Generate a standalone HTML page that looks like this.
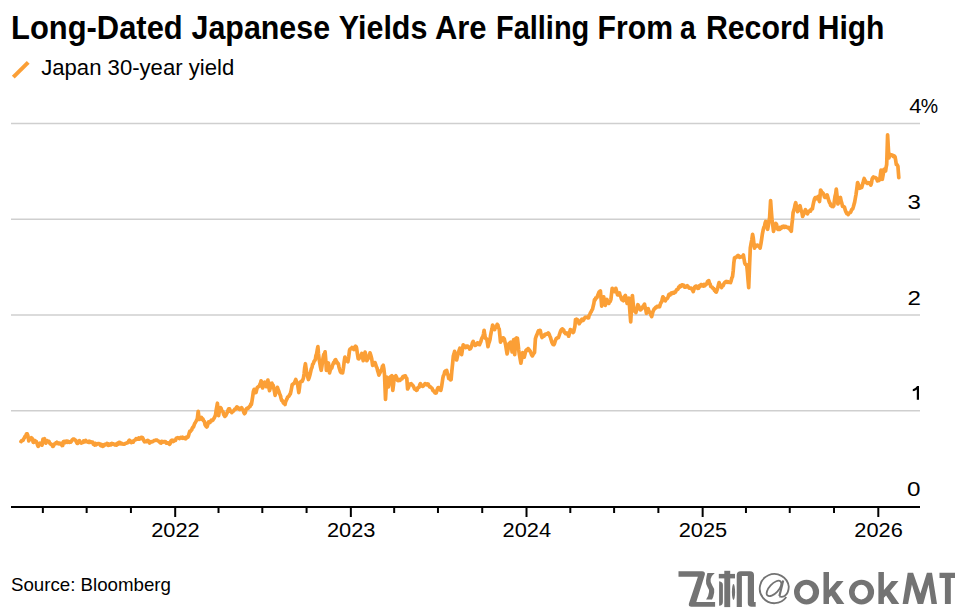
<!DOCTYPE html>
<html><head><meta charset="utf-8">
<style>
html,body{margin:0;padding:0;background:#fff;}
body{width:955px;height:608px;overflow:hidden;position:relative;}
svg{position:absolute;left:0;top:0;}
text{font-family:"Liberation Sans",sans-serif;fill:#000;}
.t{font-weight:bold;font-size:33px;}
.lg{font-size:22px;}
.ax{font-size:19.5px;}
.src{font-size:18.5px;}
</style></head><body>
<svg width="955" height="608" viewBox="0 0 955 608">
<text x="11.1" y="39" class="t" textLength="171.6" lengthAdjust="spacingAndGlyphs">Long-Dated</text>
<text x="191.5" y="39" class="t" textLength="138.6" lengthAdjust="spacingAndGlyphs">Japanese</text>
<text x="338.8" y="39" class="t" textLength="88.6" lengthAdjust="spacingAndGlyphs">Yields</text>
<text x="434.9" y="39" class="t" textLength="51.7" lengthAdjust="spacingAndGlyphs">Are</text>
<text x="496.0" y="39" class="t" textLength="93.3" lengthAdjust="spacingAndGlyphs">Falling</text>
<text x="597.6" y="39" class="t" textLength="75.4" lengthAdjust="spacingAndGlyphs">From</text>
<text x="680.0" y="39" class="t" textLength="15.7" lengthAdjust="spacingAndGlyphs">a</text>
<text x="705.9" y="39" class="t" textLength="104.3" lengthAdjust="spacingAndGlyphs">Record</text>
<text x="817.7" y="39" class="t" textLength="66.8" lengthAdjust="spacingAndGlyphs">High</text>
<line x1="13.3" y1="77.2" x2="28.2" y2="62.3" stroke="#FB9F36" stroke-width="4"/>
<text x="41.2" y="74.6" class="lg" textLength="193" lengthAdjust="spacingAndGlyphs">Japan 30-year yield</text>
<line x1="11" y1="410.8" x2="920" y2="410.8" stroke="#cfcfcf" stroke-width="1.5"/>
<line x1="11" y1="315.0" x2="920" y2="315.0" stroke="#cfcfcf" stroke-width="1.5"/>
<line x1="11" y1="219.2" x2="920" y2="219.2" stroke="#cfcfcf" stroke-width="1.5"/>
<line x1="11" y1="123.4" x2="920" y2="123.4" stroke="#cfcfcf" stroke-width="1.5"/>

<line x1="11" y1="507" x2="920" y2="507" stroke="#000" stroke-width="2"/>
<line x1="42.86" y1="506" x2="42.86" y2="513" stroke="#000" stroke-width="2"/>
<line x1="86.65" y1="506" x2="86.65" y2="513" stroke="#000" stroke-width="2"/>
<line x1="130.93" y1="506" x2="130.93" y2="513" stroke="#000" stroke-width="2"/>
<line x1="175.20" y1="506" x2="175.20" y2="517" stroke="#000" stroke-width="2"/>
<line x1="218.51" y1="506" x2="218.51" y2="513" stroke="#000" stroke-width="2"/>
<line x1="262.31" y1="506" x2="262.31" y2="513" stroke="#000" stroke-width="2"/>
<line x1="306.58" y1="506" x2="306.58" y2="513" stroke="#000" stroke-width="2"/>
<line x1="350.85" y1="506" x2="350.85" y2="517" stroke="#000" stroke-width="2"/>
<line x1="394.17" y1="506" x2="394.17" y2="513" stroke="#000" stroke-width="2"/>
<line x1="437.96" y1="506" x2="437.96" y2="513" stroke="#000" stroke-width="2"/>
<line x1="482.23" y1="506" x2="482.23" y2="513" stroke="#000" stroke-width="2"/>
<line x1="526.51" y1="506" x2="526.51" y2="517" stroke="#000" stroke-width="2"/>
<line x1="570.30" y1="506" x2="570.30" y2="513" stroke="#000" stroke-width="2"/>
<line x1="614.10" y1="506" x2="614.10" y2="513" stroke="#000" stroke-width="2"/>
<line x1="658.37" y1="506" x2="658.37" y2="513" stroke="#000" stroke-width="2"/>
<line x1="702.65" y1="506" x2="702.65" y2="517" stroke="#000" stroke-width="2"/>
<line x1="745.96" y1="506" x2="745.96" y2="513" stroke="#000" stroke-width="2"/>
<line x1="789.75" y1="506" x2="789.75" y2="513" stroke="#000" stroke-width="2"/>
<line x1="834.03" y1="506" x2="834.03" y2="513" stroke="#000" stroke-width="2"/>
<line x1="878.30" y1="506" x2="878.30" y2="517" stroke="#000" stroke-width="2"/>

<text x="175.5" y="537" text-anchor="middle" class="ax" textLength="48.5" lengthAdjust="spacingAndGlyphs">2022</text>
<text x="351.2" y="537" text-anchor="middle" class="ax" textLength="48.5" lengthAdjust="spacingAndGlyphs">2023</text>
<text x="526.8" y="537" text-anchor="middle" class="ax" textLength="48.5" lengthAdjust="spacingAndGlyphs">2024</text>
<text x="702.9" y="537" text-anchor="middle" class="ax" textLength="48.5" lengthAdjust="spacingAndGlyphs">2025</text>
<text x="878.6" y="537" text-anchor="middle" class="ax" textLength="48.5" lengthAdjust="spacingAndGlyphs">2026</text>

<text x="909.2" y="112.5" class="ax" textLength="12.25" lengthAdjust="spacingAndGlyphs">4</text>
<text x="907.4" y="209.2" class="ax" textLength="13.37" lengthAdjust="spacingAndGlyphs">3</text>
<text x="907.5" y="305.0" class="ax" textLength="13.43" lengthAdjust="spacingAndGlyphs">2</text>
<text x="907.05" y="495.7" class="ax" textLength="13.5" lengthAdjust="spacingAndGlyphs">0</text>
<text x="920.8" y="112.5" class="ax">%</text>
<path d="M919,385.9 V399.8 H916.8 V389.4 Q915,390.7 912.8,391.3 V389.3 Q915.6,388.3 917.1,385.9 Z" fill="#000"/>

<path d="M21.0,441.6 L21.7,440.6 L22.5,440.7 L23.2,440.1 L23.8,438.6 L24.5,437.8 L25.1,436.3 L25.9,435.3 L26.6,433.8 L27.2,433.9 L27.9,435.7 L28.8,441.0 L29.5,438.8 L30.1,438.5 L30.7,439.1 L31.4,437.8 L32.0,438.2 L32.6,439.7 L33.2,442.3 L33.9,442.3 L34.5,440.4 L35.1,440.7 L35.8,441.9 L36.4,441.6 L37.0,443.2 L37.6,445.1 L38.2,446.4 L38.8,444.6 L39.5,444.5 L40.1,443.2 L40.7,444.6 L41.4,444.5 L42.0,445.1 L43.0,439.1 L43.8,439.4 L44.5,438.8 L45.1,441.3 L45.8,443.2 L46.5,441.1 L47.3,440.7 L48.1,441.5 L48.9,441.3 L49.5,442.7 L50.2,443.8 L50.8,443.8 L51.4,444.5 L52.0,444.5 L52.7,446.4 L53.4,446.2 L54.0,444.5 L54.6,443.9 L55.2,443.9 L55.8,442.9 L56.5,443.4 L57.1,442.3 L57.7,443.0 L58.4,443.7 L59.0,443.2 L59.6,443.1 L60.3,444.0 L60.9,443.5 L61.5,444.0 L62.1,445.6 L62.7,445.4 L63.4,441.6 L64.0,442.7 L64.7,441.5 L65.3,442.6 L65.9,441.3 L66.5,441.0 L67.1,441.0 L67.7,442.3 L68.4,441.5 L69.0,442.0 L69.6,442.3 L70.3,441.6 L70.9,442.0 L71.6,440.9 L72.2,439.8 L72.8,439.3 L73.4,439.0 L74.0,439.1 L74.8,439.9 L75.7,440.4 L76.5,442.1 L77.2,443.5 L77.9,443.4 L78.7,442.0 L79.4,440.7 L80.1,442.0 L80.8,442.4 L81.5,443.1 L82.2,442.6 L82.9,442.5 L83.6,441.0 L84.3,442.0 L85.0,441.8 L85.7,440.4 L86.3,441.7 L87.0,441.6 L87.6,442.0 L88.4,442.3 L89.2,441.2 L89.9,442.4 L90.7,441.6 L91.3,442.2 L92.0,442.0 L92.6,442.0 L93.3,444.1 L93.9,443.8 L94.5,445.0 L95.2,443.3 L95.8,444.9 L96.4,444.5 L97.2,444.1 L98.0,443.5 L98.7,443.6 L99.5,443.8 L100.1,444.9 L100.8,445.6 L101.4,444.4 L102.1,446.1 L102.7,446.4 L103.3,444.9 L104.0,445.7 L104.6,444.4 L105.2,444.2 L105.8,444.7 L106.5,444.7 L107.1,443.5 L107.7,443.9 L108.3,445.3 L109.0,444.3 L109.6,445.1 L110.4,444.0 L111.2,444.8 L111.9,443.5 L112.7,444.2 L113.5,443.8 L114.2,444.4 L115.0,445.0 L115.7,444.2 L116.5,445.1 L117.3,443.5 L118.0,444.4 L118.8,442.6 L119.6,442.3 L120.2,443.6 L120.9,443.9 L121.5,443.2 L122.2,443.7 L122.8,444.2 L123.4,444.1 L124.0,444.1 L124.7,443.9 L125.3,443.5 L125.9,443.3 L126.6,443.1 L127.2,442.6 L127.9,442.7 L128.7,441.0 L129.4,440.2 L130.0,440.8 L130.7,442.2 L131.3,442.5 L131.9,441.5 L132.6,441.2 L133.2,442.1 L133.9,440.7 L134.5,440.2 L135.3,440.0 L136.1,438.6 L136.8,439.1 L137.6,439.0 L138.2,439.1 L138.8,437.9 L139.5,439.0 L140.1,438.7 L140.7,438.7 L141.3,437.3 L142.0,438.2 L142.6,437.7 L143.2,439.0 L143.9,440.7 L144.5,441.7 L145.1,441.2 L145.8,441.7 L146.4,441.6 L147.0,440.9 L147.6,440.3 L148.3,440.7 L148.9,442.2 L149.6,443.1 L150.2,442.5 L151.0,441.7 L151.8,441.8 L152.5,441.7 L153.3,441.2 L154.1,440.6 L154.8,440.5 L155.6,440.2 L156.3,440.1 L157.1,440.2 L157.9,441.0 L158.6,441.1 L159.4,441.8 L160.2,442.7 L161.0,443.0 L161.7,441.3 L162.5,442.1 L163.2,442.2 L164.0,441.5 L164.8,441.5 L165.6,441.7 L166.3,443.2 L167.1,443.0 L167.7,442.8 L168.3,443.0 L169.0,443.8 L169.6,444.3 L170.2,443.4 L170.9,441.0 L171.5,440.5 L172.1,440.2 L172.8,440.4 L173.4,441.5 L174.0,440.9 L174.8,440.1 L175.5,440.3 L176.3,438.3 L177.0,438.0 L177.8,437.7 L178.6,438.1 L179.3,438.6 L180.1,437.8 L180.8,437.4 L181.6,438.0 L182.4,437.3 L183.1,438.3 L183.9,437.7 L184.7,438.4 L185.3,438.8 L186.0,438.6 L186.6,437.0 L187.3,436.9 L187.9,437.1 L188.5,435.8 L189.1,433.6 L189.7,431.4 L190.3,431.6 L191.0,430.3 L191.6,430.2 L192.2,428.2 L192.8,427.3 L193.5,427.0 L194.1,425.2 L194.7,423.5 L195.4,422.4 L196.0,421.4 L196.7,420.0 L197.3,418.9 L198.2,411.3 L199.2,419.5 L199.9,418.6 L200.7,417.9 L201.4,417.4 L202.1,419.4 L202.9,419.0 L203.6,420.8 L204.4,421.4 L205.1,424.8 L205.9,426.2 L206.7,427.0 L207.3,426.3 L208.0,423.5 L208.6,422.0 L209.2,422.7 L209.9,422.5 L210.5,421.4 L211.3,420.2 L212.1,420.6 L212.8,420.2 L213.6,418.9 L214.2,418.0 L214.9,416.4 L215.5,415.1 L216.1,410.7 L216.8,406.8 L217.4,403.2 L218.0,408.9 L218.6,415.7 L219.2,412.1 L219.9,410.5 L220.5,407.6 L221.1,408.4 L221.8,410.7 L222.4,411.3 L223.0,411.7 L223.7,414.7 L224.3,415.5 L224.9,416.4 L225.7,415.7 L226.4,414.2 L227.2,412.6 L227.9,410.5 L228.7,408.8 L229.5,408.8 L230.2,411.2 L231.0,411.0 L231.8,412.6 L232.5,411.4 L233.3,411.3 L234.0,410.2 L234.7,409.2 L235.4,409.4 L236.2,407.9 L236.9,406.9 L237.6,407.3 L238.2,407.9 L238.9,409.1 L239.6,409.5 L240.2,408.4 L240.9,408.7 L241.6,407.8 L242.3,409.0 L243.1,410.1 L243.8,412.3 L244.5,413.7 L245.3,412.6 L246.0,409.5 L246.8,408.4 L247.5,408.5 L248.2,408.2 L248.8,407.5 L249.5,406.4 L250.1,406.4 L250.8,404.1 L251.4,404.5 L252.1,400.4 L252.7,396.4 L253.4,391.3 L254.1,389.4 L254.7,389.3 L255.3,390.5 L256.0,392.6 L256.7,389.5 L257.4,387.4 L258.0,387.0 L258.7,386.4 L259.3,386.1 L259.9,384.3 L260.5,383.1 L261.1,380.8 L261.9,383.4 L262.6,388.0 L263.3,385.1 L263.9,383.3 L264.6,382.1 L265.5,383.6 L266.3,386.7 L267.1,382.5 L267.9,380.1 L268.7,386.3 L269.5,390.7 L270.4,387.8 L271.2,383.4 L271.9,383.2 L272.5,384.7 L273.2,385.4 L273.8,388.3 L274.5,391.6 L275.1,395.3 L275.9,392.4 L276.6,390.3 L277.4,387.4 L278.2,389.8 L278.9,391.5 L279.7,394.0 L280.4,395.5 L281.0,398.0 L281.7,400.5 L282.4,400.5 L283.0,402.2 L283.7,403.3 L284.3,403.5 L285.0,404.5 L285.6,401.8 L286.3,400.2 L287.0,398.8 L287.6,397.2 L288.3,396.6 L289.0,396.2 L289.6,394.6 L290.3,394.0 L290.9,391.5 L291.6,388.0 L292.2,384.7 L292.9,384.1 L293.5,383.6 L294.2,383.4 L295.0,381.4 L295.8,379.5 L296.6,381.9 L297.5,383.4 L298.1,387.8 L298.8,392.6 L299.5,387.7 L300.1,382.1 L300.8,381.8 L301.4,381.1 L302.1,381.4 L302.8,379.9 L303.4,378.2 L304.1,373.8 L304.7,367.7 L305.4,363.7 L306.0,368.1 L306.7,372.9 L307.5,376.1 L308.4,379.5 L309.2,377.6 L309.9,375.1 L310.7,371.6 L311.3,368.9 L312.0,367.5 L312.6,364.3 L313.3,363.7 L314.0,361.5 L314.6,360.8 L315.3,359.7 L315.9,355.7 L316.6,353.8 L317.2,350.2 L317.9,346.6 L318.5,353.9 L319.2,359.7 L319.9,363.8 L320.5,367.1 L321.2,370.3 L321.9,366.4 L322.5,361.6 L323.2,357.1 L323.8,354.5 L324.5,353.7 L325.1,351.8 L325.8,360.1 L326.4,370.3 L327.1,367.2 L327.7,366.0 L328.4,363.0 L328.9,367.0 L329.5,372.9 L330.2,370.3 L330.9,368.5 L331.7,368.3 L332.4,365.7 L333.1,363.9 L333.7,362.3 L334.4,362.8 L335.0,360.1 L335.7,359.7 L336.4,361.4 L337.0,362.0 L337.6,363.4 L338.3,363.7 L339.0,367.2 L339.6,369.1 L340.3,371.6 L341.1,372.6 L341.8,371.5 L342.6,372.9 L343.4,368.2 L344.1,362.4 L344.9,357.1 L345.6,358.7 L346.4,358.6 L347.1,361.0 L347.9,361.7 L348.7,357.0 L349.5,350.5 L350.1,348.9 L350.8,348.6 L351.4,348.4 L352.0,347.5 L352.6,348.8 L353.3,348.3 L353.9,349.5 L354.7,347.2 L355.5,346.2 L356.1,346.7 L356.6,348.2 L357.4,353.7 L358.2,358.7 L358.9,358.8 L359.6,357.6 L360.3,357.4 L361.1,355.1 L361.8,353.4 L362.5,356.8 L363.2,360.7 L363.8,357.5 L364.5,354.8 L365.1,352.1 L366.0,355.6 L366.8,360.7 L367.6,359.4 L368.4,358.0 L369.2,356.3 L370.0,352.8 L370.9,355.6 L371.7,358.7 L372.6,365.3 L373.4,364.9 L374.2,362.8 L375.0,362.6 L375.7,364.7 L376.3,366.6 L377.0,367.9 L377.6,370.6 L378.3,372.7 L378.9,375.1 L379.6,373.5 L380.2,372.3 L380.9,370.5 L381.7,369.6 L382.4,366.3 L383.2,365.3 L383.9,369.1 L384.5,374.5 L385.5,399.5 L386.1,388.8 L386.8,377.1 L387.6,382.9 L388.4,387.0 L389.2,382.1 L390.1,377.1 L391.0,376.3 L391.8,375.8 L392.8,390.3 L393.5,384.8 L394.1,378.4 L395.0,376.5 L395.8,375.8 L396.4,376.9 L397.0,378.3 L397.6,380.4 L398.4,380.6 L399.2,380.0 L400.0,380.4 L400.6,379.0 L401.3,379.1 L402.0,378.8 L402.6,377.1 L403.3,376.4 L404.0,376.9 L404.6,376.0 L405.3,375.8 L406.1,377.8 L406.8,378.4 L407.6,389.0 L408.4,387.6 L409.1,385.4 L409.9,384.3 L410.5,383.9 L411.2,383.7 L411.9,384.8 L412.5,385.0 L413.2,386.1 L413.8,387.0 L414.5,389.0 L415.1,389.2 L415.8,389.5 L416.4,390.3 L417.1,389.9 L417.7,387.8 L418.4,387.6 L419.1,387.3 L419.7,385.0 L420.4,383.7 L421.1,384.8 L421.7,385.4 L422.4,386.3 L423.0,386.3 L423.7,385.6 L424.4,384.5 L425.0,383.7 L425.7,383.8 L426.3,384.4 L427.0,384.8 L427.6,384.0 L428.3,384.3 L428.9,385.6 L429.6,386.9 L430.2,386.7 L430.9,387.6 L431.6,387.9 L432.2,388.7 L432.9,390.5 L433.6,390.9 L434.2,391.8 L434.9,392.8 L435.6,393.1 L436.2,392.9 L436.9,390.6 L437.5,388.7 L438.2,387.6 L438.9,387.8 L439.5,388.3 L440.1,390.0 L440.8,390.3 L441.5,387.1 L442.1,383.2 L442.8,378.4 L443.4,375.7 L444.1,374.7 L444.7,371.8 L445.4,371.0 L446.0,370.8 L446.7,370.5 L447.4,373.6 L448.0,374.9 L448.7,378.4 L449.5,378.0 L450.3,379.9 L451.1,379.7 L451.8,371.4 L452.6,363.7 L453.3,356.1 L454.0,353.9 L454.6,351.4 L455.3,354.6 L455.9,356.1 L456.6,360.0 L457.3,357.0 L457.9,354.6 L458.6,352.1 L459.2,350.1 L459.9,348.2 L460.8,350.9 L461.6,354.7 L462.4,350.0 L463.2,344.9 L463.9,346.5 L464.5,346.0 L465.1,346.9 L465.8,347.5 L466.4,346.2 L467.0,346.0 L467.6,346.0 L468.3,347.3 L468.9,347.2 L469.6,349.0 L470.3,348.8 L470.9,347.8 L471.6,346.0 L472.4,342.9 L473.2,341.4 L473.9,343.6 L474.6,343.8 L475.3,345.4 L476.0,345.1 L476.8,344.2 L477.5,342.8 L478.2,343.0 L478.8,344.4 L479.5,344.7 L480.1,343.3 L480.8,341.8 L481.4,339.5 L482.1,337.7 L482.8,336.8 L483.5,334.1 L484.1,330.3 L484.8,335.2 L485.4,338.2 L486.0,338.8 L486.7,338.8 L487.4,342.8 L488.0,346.7 L488.7,343.5 L489.3,341.9 L490.0,339.5 L490.6,335.3 L491.3,331.6 L492.0,328.7 L492.6,325.0 L493.3,326.9 L493.9,328.2 L494.6,329.6 L495.2,327.6 L495.9,327.2 L496.6,325.9 L497.2,324.3 L497.9,325.2 L498.5,328.1 L499.2,328.9 L499.9,335.8 L500.5,342.1 L501.2,340.0 L501.8,340.4 L502.5,338.2 L503.4,337.8 L504.2,338.8 L505.0,342.1 L505.8,346.0 L506.5,350.4 L507.1,353.9 L507.8,350.6 L508.4,347.0 L509.1,343.4 L510.0,343.0 L510.8,342.1 L511.5,347.0 L512.1,352.0 L512.9,345.4 L513.7,339.5 L514.7,354.6 L515.7,338.8 L516.5,337.9 L517.4,338.2 L518.0,343.2 L518.7,350.0 L519.4,354.8 L520.2,359.3 L520.9,363.2 L521.8,358.0 L522.6,352.6 L523.4,355.4 L524.2,357.2 L524.9,354.5 L525.5,351.9 L526.2,350.0 L526.9,349.6 L527.5,350.4 L528.1,348.6 L528.8,349.3 L529.5,350.4 L530.1,351.0 L530.8,352.6 L531.6,354.8 L532.4,355.9 L533.1,354.5 L533.8,353.4 L534.5,352.6 L535.4,338.8 L536.2,336.3 L537.1,334.2 L537.8,332.6 L538.4,330.9 L539.0,331.3 L539.7,330.3 L540.3,330.5 L541.1,334.7 L542.0,337.5 L542.7,336.3 L543.3,336.2 L544.0,336.2 L544.6,334.7 L545.3,334.1 L545.9,334.2 L546.7,334.3 L547.4,333.8 L548.2,332.9 L549.0,333.9 L549.9,336.2 L550.5,337.5 L551.2,340.0 L551.8,342.1 L552.5,343.5 L553.1,344.5 L553.8,344.7 L554.5,343.5 L555.1,341.4 L555.8,339.5 L556.4,338.3 L557.1,338.3 L557.8,337.4 L558.4,337.5 L559.1,335.6 L559.7,333.7 L560.4,331.6 L561.1,330.1 L561.7,329.3 L562.4,328.9 L563.0,330.5 L563.7,330.0 L564.4,332.5 L565.0,332.9 L565.7,333.7 L566.3,333.8 L567.0,332.9 L567.9,334.3 L568.7,336.2 L569.5,333.0 L570.3,329.6 L571.0,330.1 L571.8,330.3 L572.4,331.2 L573.0,332.5 L573.6,332.2 L574.2,329.6 L574.9,326.3 L575.5,319.7 L576.2,319.3 L576.8,320.4 L577.5,319.7 L578.4,321.7 L579.2,323.7 L579.9,322.6 L580.7,321.5 L581.4,319.7 L582.0,319.1 L582.6,320.5 L583.3,320.2 L584.0,319.2 L584.6,318.0 L585.3,317.2 L586.0,317.4 L586.6,317.4 L587.3,317.0 L587.9,317.8 L588.6,317.9 L589.2,315.2 L589.9,314.4 L590.5,312.6 L591.2,311.8 L591.8,310.3 L592.5,309.3 L593.2,306.2 L593.8,303.7 L594.5,299.5 L595.1,299.9 L595.8,297.9 L596.4,298.2 L597.1,297.3 L597.7,295.4 L598.4,293.6 L599.1,291.8 L599.7,291.5 L600.4,290.9 L601.0,298.0 L601.7,306.1 L602.4,302.2 L603.0,300.0 L603.7,296.8 L604.5,302.0 L605.3,305.4 L606.1,302.1 L607.0,299.5 L607.6,301.5 L608.3,302.5 L608.9,303.4 L609.6,301.4 L610.2,301.5 L610.9,299.5 L611.5,294.1 L612.2,288.3 L613.0,290.3 L613.7,290.9 L614.5,291.6 L615.1,290.4 L615.8,288.3 L616.6,291.3 L617.5,294.9 L618.2,294.8 L618.8,294.4 L619.5,292.9 L620.1,295.6 L620.8,296.7 L621.4,298.8 L622.1,300.0 L622.7,300.1 L623.4,300.8 L624.1,298.3 L624.7,296.4 L625.4,295.5 L626.2,298.6 L627.1,303.4 L627.7,301.1 L628.3,299.3 L628.9,298.2 L629.5,306.1 L630.1,314.3 L630.7,321.8 L631.5,308.7 L632.4,295.5 L633.1,302.6 L633.9,310.0 L634.6,311.2 L635.2,311.3 L635.9,312.6 L636.6,309.9 L637.2,307.8 L637.9,304.7 L638.6,306.0 L639.2,307.1 L639.9,309.3 L640.5,309.9 L641.2,309.3 L641.8,308.7 L642.5,307.3 L643.1,306.1 L643.8,305.3 L644.5,304.1 L645.1,307.4 L645.8,309.7 L646.4,313.3 L647.0,310.8 L647.6,309.7 L648.2,308.7 L649.0,311.2 L649.7,312.6 L650.4,313.2 L651.0,315.2 L651.7,316.6 L652.4,313.8 L653.0,311.6 L653.7,310.0 L654.4,308.7 L655.0,308.5 L655.6,307.4 L656.3,307.4 L657.0,306.3 L657.6,306.3 L658.3,306.3 L658.9,306.8 L659.6,306.7 L660.3,304.3 L660.9,302.7 L661.6,302.1 L662.2,299.3 L662.9,296.8 L663.7,297.9 L664.5,299.9 L665.3,300.8 L666.0,299.0 L666.8,298.9 L667.5,298.2 L668.2,296.7 L668.8,294.6 L669.5,294.2 L670.1,295.0 L670.8,293.3 L671.5,292.9 L672.1,293.6 L672.8,293.3 L673.4,292.4 L674.1,293.0 L674.7,292.2 L675.4,292.2 L676.1,290.6 L676.7,289.6 L677.4,289.6 L678.0,289.1 L678.7,287.2 L679.4,287.3 L680.0,285.7 L680.6,285.5 L681.3,286.2 L682.0,284.8 L682.6,285.0 L683.3,285.0 L684.0,285.5 L684.6,287.1 L685.3,287.0 L685.9,287.1 L686.6,286.3 L687.2,285.7 L687.9,286.3 L688.5,287.2 L689.2,288.2 L689.9,288.0 L690.5,288.3 L691.2,288.1 L691.9,289.0 L692.5,290.0 L693.2,291.6 L694.0,289.2 L694.7,287.1 L695.5,286.3 L696.3,286.1 L697.0,287.9 L697.8,288.3 L698.6,288.2 L699.3,285.9 L700.1,286.5 L700.9,284.6 L701.6,284.7 L702.2,285.5 L702.9,285.9 L703.6,286.1 L704.2,284.5 L704.9,285.6 L705.5,284.4 L706.2,284.2 L706.8,284.0 L707.5,281.5 L708.1,281.1 L708.8,280.7 L709.5,283.4 L710.1,283.9 L710.8,286.6 L711.5,286.9 L712.2,287.2 L713.0,288.4 L713.7,288.5 L714.4,290.3 L715.0,289.6 L715.6,291.7 L716.3,292.1 L717.0,290.2 L717.7,288.0 L718.4,285.1 L719.1,282.6 L719.7,284.7 L720.4,284.8 L721.0,286.2 L721.6,287.6 L722.4,285.8 L723.1,285.7 L723.9,283.8 L724.6,282.6 L725.4,281.9 L726.1,281.4 L726.9,282.3 L727.6,281.6 L728.3,282.1 L729.0,282.5 L729.8,282.1 L730.5,282.6 L731.2,280.6 L731.8,278.0 L732.5,276.7 L733.2,270.9 L733.8,263.3 L734.5,258.0 L735.2,257.4 L736.0,257.5 L736.7,256.9 L737.4,256.0 L738.1,255.4 L738.9,256.0 L739.6,257.4 L740.4,257.0 L741.1,256.8 L741.9,256.8 L742.6,256.2 L743.4,255.0 L744.0,258.8 L744.7,262.9 L745.4,264.4 L746.0,264.7 L746.7,264.9 L747.4,272.1 L748.0,279.8 L748.7,287.6 L749.5,267.0 L750.3,248.1 L751.1,243.3 L751.8,239.8 L752.6,234.3 L753.3,238.1 L753.9,243.6 L754.6,248.1 L755.2,246.6 L755.9,245.8 L756.6,246.1 L757.2,245.1 L757.9,245.3 L758.7,245.7 L759.4,246.7 L760.1,248.1 L760.9,243.9 L761.6,239.4 L762.4,233.8 L763.1,230.3 L763.8,227.5 L764.4,226.8 L765.1,223.1 L765.7,221.4 L766.3,224.2 L767.0,226.5 L767.6,229.3 L768.3,225.9 L768.9,221.6 L769.6,217.5 L770.6,200.7 L771.3,210.7 L772.0,219.5 L772.8,225.5 L773.5,231.3 L774.3,228.0 L775.1,225.4 L775.9,223.4 L776.6,224.5 L777.2,228.0 L777.9,229.3 L778.5,228.2 L779.2,227.7 L779.8,229.3 L780.5,227.4 L781.1,228.5 L781.8,227.4 L782.5,226.4 L783.1,227.0 L783.8,226.3 L784.5,227.4 L785.1,226.8 L785.8,226.4 L786.5,226.9 L787.2,227.4 L788.0,227.9 L788.7,227.4 L789.4,228.1 L790.0,229.6 L790.6,230.2 L791.3,231.3 L791.9,224.3 L792.5,219.5 L793.1,212.6 L793.8,210.3 L794.4,208.3 L795.1,204.6 L795.7,202.7 L796.3,205.7 L797.0,208.6 L797.6,211.6 L798.4,210.1 L799.2,206.8 L800.0,205.7 L800.6,208.1 L801.3,211.1 L802.0,212.9 L802.6,216.5 L803.3,214.9 L804.0,213.5 L804.8,211.2 L805.5,209.6 L806.2,211.3 L806.8,212.6 L807.5,213.8 L808.3,212.1 L809.1,211.3 L809.9,210.5 L810.5,211.1 L811.1,209.4 L811.8,209.2 L812.4,208.9 L813.1,204.8 L813.8,201.7 L814.5,199.0 L815.2,197.8 L815.8,198.8 L816.5,197.4 L817.4,197.4 L818.2,196.5 L818.9,199.7 L819.5,201.5 L820.0,196.7 L820.6,190.0 L821.2,191.0 L821.9,192.5 L822.5,192.5 L823.1,193.3 L823.8,194.5 L824.4,196.9 L825.1,197.4 L825.8,197.4 L826.5,196.6 L827.2,194.9 L828.0,197.8 L828.8,200.7 L829.4,202.5 L830.0,203.0 L830.7,205.4 L831.3,205.6 L831.9,206.4 L832.5,205.2 L833.2,206.5 L833.8,205.6 L834.4,200.8 L835.0,196.5 L835.7,193.7 L836.3,189.1 L837.1,196.1 L837.9,204.0 L838.5,202.4 L839.1,201.0 L839.8,198.1 L840.4,197.4 L841.1,200.9 L841.8,203.0 L842.5,206.4 L843.2,206.5 L843.8,206.6 L844.5,207.2 L845.3,210.2 L846.1,212.2 L846.8,213.5 L847.4,213.4 L848.1,214.6 L848.8,213.2 L849.4,213.0 L850.1,212.6 L850.7,212.2 L851.4,210.3 L852.0,209.3 L852.7,208.9 L853.3,207.0 L854.0,204.4 L854.6,202.4 L855.2,199.0 L856.0,194.5 L856.8,188.8 L857.6,182.6 L858.3,184.2 L858.9,185.7 L859.6,188.3 L860.3,187.7 L861.0,187.7 L861.7,187.5 L862.3,185.3 L863.0,183.1 L863.6,180.5 L864.2,178.5 L864.9,180.6 L865.5,180.8 L866.2,182.6 L866.9,182.5 L867.5,183.4 L868.1,183.2 L868.8,182.6 L869.5,183.0 L870.1,183.7 L870.8,185.0 L871.5,183.1 L872.1,179.1 L872.8,177.6 L873.4,176.9 L874.1,177.7 L874.8,177.7 L875.4,177.6 L876.1,178.0 L876.7,178.9 L877.4,180.9 L878.2,179.8 L879.0,180.4 L879.8,179.3 L880.4,174.7 L881.0,170.2 L881.6,175.7 L882.3,179.3 L883.1,174.9 L883.9,169.4 L884.8,171.2 L885.6,171.0 L886.2,166.8 L886.7,164.5 L887.6,134.9 L888.2,145.8 L888.9,157.9 L889.7,155.3 L890.5,154.6 L891.1,154.9 L891.8,155.1 L892.4,155.0 L893.0,156.3 L893.7,156.7 L894.4,156.0 L895.1,157.1 L895.7,160.4 L896.3,164.5 L897.1,164.8 L897.9,166.1 L898.8,177.6" fill="none" stroke="#FB9F36" stroke-width="3.7" stroke-linejoin="round" stroke-linecap="round"/>
<text x="11" y="591" class="src" textLength="160" lengthAdjust="spacingAndGlyphs">Source: Bloomberg</text>
<g fill="#737373">
<path d="M678.5,571.2 H702 Q705.2,571.2 704.9,574.5 L696.3,601.9 H715.1 V606.8 H691.5 Q688.2,606.8 688.9,603.5 L697.9,576.7 H678.5 Z"/>
<path d="M707.4,572.9 H714.8 Q711.4,575.5 710.6,579 Q710,582 712.3,585.5 Q714.8,588.5 714.2,592.5 Q713.5,597 712,599.5 H706.1 Q708.6,596 709,592 Q709.3,589.5 707.5,587 Q705.6,584 706,580.5 Q706.4,576 707.4,572.9 Z"/>
<rect x="718.8" y="573.9" width="16.2" height="4.5"/>
<rect x="724.3" y="570.8" width="5.9" height="36.3"/>
<path d="M719.1,581.2 Q722.9,581.6 722.9,585 V602 Q722.9,605.5 719.1,605.7 Z"/>
<ellipse cx="733.5" cy="592" rx="1.6" ry="7.9"/>
<path d="M736.7,607.1 V575.2 Q736.7,571.2 740.7,571.2 H750 Q754,571.2 754,575.2 V602 H755.7 V606.8 H751.5 Q747.8,606.8 747.8,603 V576 H741.9 V607.1 Z"/>
</g>
<g fill="none" stroke="#737373" stroke-width="1.8">
<path d="M786.3,597.0 A14.6,14.6 0 1 1 788.8,586.6 Q788.6,593.5 784.5,596.0 Q781.8,597.4 779.3,596.4"/>
<ellipse cx="774" cy="588.4" rx="4.6" ry="9.6" transform="rotate(43 774 588.4)"/>
<path d="M783.2,580.6 L779.4,596" stroke-width="2.2"/>
</g>
<g fill="#737373" fill-rule="evenodd">
<path d="M794,592.1 a12.55,12.35 0 1 0 25.1,0 a12.55,12.35 0 1 0 -25.1,0 Z M799.6,592.1 a6.7,7.35 0 1 0 13.4,0 a6.7,7.35 0 1 0 -13.4,0 Z"/>
<path d="M849,592.1 a12.55,12.35 0 1 0 25.1,0 a12.55,12.35 0 1 0 -25.1,0 Z M854.6,592.1 a6.7,7.35 0 1 0 13.4,0 a6.7,7.35 0 1 0 -13.4,0 Z"/>
<path d="M823.5,571.9 H829 V589.9 L836.9,581.1 H843.6 L835.2,591.1 L844.4,604.1 H836.9 L831.2,595.6 L829,597.8 V604.1 H823.5 Z"/>
<path d="M878.4,571.9 H883.9 V589.9 L891.6,581.1 H898.5 L890.1,591.1 L899.3,604.1 H891.8 L886.1,595.6 L883.9,597.8 V604.1 H878.4 Z"/>
<path d="M902.6,604.1 L907.7,572.7 H913.1 L920.4,593.6 L926.9,572.7 H932 L937,604.1 H931.5 L928.6,584.4 L923.2,604.1 H917.7 L911.9,584.4 L908.1,604.1 Z"/>
<path d="M939.5,572.7 H956 V578.1 H950.8 V604.1 H944.9 V578.1 H939.5 Z"/>
</g>
</svg>
</body></html>
